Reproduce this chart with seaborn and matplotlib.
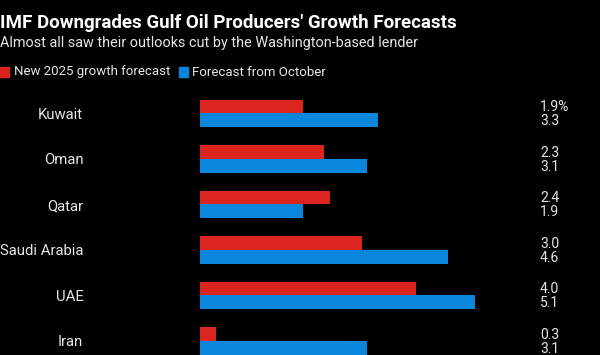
import pandas as pd
import matplotlib
matplotlib.use("Agg")
import matplotlib.pyplot as plt
import matplotlib.transforms as mtransforms
from matplotlib.patches import Rectangle
import seaborn as sns

# Chart data
countries = ["Kuwait", "Oman", "Qatar", "Saudi Arabia", "UAE", "Iran"]
new_2025 = [1.9, 2.3, 2.4, 3.0, 4.0, 0.3]
from_october = [3.3, 3.1, 1.9, 4.6, 5.1, 3.1]
series_names = ["New 2025 growth forecast", "Forecast from October"]

RED = "#dc241f"
BLUE = "#0a86dc"
TEXT = "#e6e6e6"

df = pd.DataFrame({
    "country": countries * 2,
    "value": new_2025 + from_october,
    "series": [series_names[0]] * len(countries) + [series_names[1]] * len(countries),
})

sns.set_style("dark")
plt.rcParams["font.family"] = ["Roboto", "DejaVu Sans"]

fig = plt.figure(figsize=(6, 3.55), dpi=100, facecolor="black")
ax = fig.add_axes([200 / 600, 0, 324 / 600, 1 - 92 / 355])
ax.set_facecolor("black")

sns.barplot(data=df, y="country", x="value", hue="series", orient="h",
            palette=[RED, BLUE], width=0.6, saturation=1, ax=ax,
            legend=False, linewidth=0, edgecolor="none")

ax.set_xlim(0, 6)
ax.set_ylim(5.308, -0.47)
ax.set_xlabel("")
ax.set_ylabel("")
ax.set_xticks([])
ax.tick_params(axis="y", length=0, pad=84, labelsize=10.7, labelcolor=TEXT)
for lbl in ax.get_yticklabels():
    lbl.set_horizontalalignment("right")
for s in ax.spines.values():
    s.set_visible(False)
ax.grid(False)

# value labels at right
trans = mtransforms.blended_transform_factory(fig.transFigure, ax.transData)
for i in range(len(countries)):
    red_txt = f"{new_2025[i]:.1f}" + ("%" if i == 0 else "")
    ax.text(540 / 600, i - 0.14, red_txt, transform=trans, ha="left", va="center",
            color=TEXT, fontsize=10)
    ax.text(540 / 600, i + 0.17, f"{from_october[i]:.1f}", transform=trans, ha="left",
            va="center", color=TEXT, fontsize=10)

# title, subtitle, legend
fig.text(0, 1 - 23 / 355, "IMF Downgrades Gulf Oil Producers' Growth Forecasts",
         color="white", fontsize=13.5, fontweight="bold", ha="left", va="center")
fig.text(0, 1 - 43 / 355, "Almost all saw their outlooks cut by the Washington-based lender",
         color=TEXT, fontsize=10.4, ha="left", va="center")

fig.patches.append(Rectangle((0, 1 - 77 / 355), 9 / 600, 10 / 355,
                             transform=fig.transFigure, color=RED))
fig.text(14 / 600, 1 - 72 / 355, series_names[0], color=TEXT, fontsize=9.5,
         ha="left", va="center")
fig.patches.append(Rectangle((179 / 600, 1 - 77 / 355), 9 / 600, 10 / 355,
                             transform=fig.transFigure, color=BLUE))
fig.text(192 / 600, 1 - 72 / 355, series_names[1], color=TEXT, fontsize=9.5,
         ha="left", va="center")

fig.savefig("out.png", dpi=100, facecolor="black")
